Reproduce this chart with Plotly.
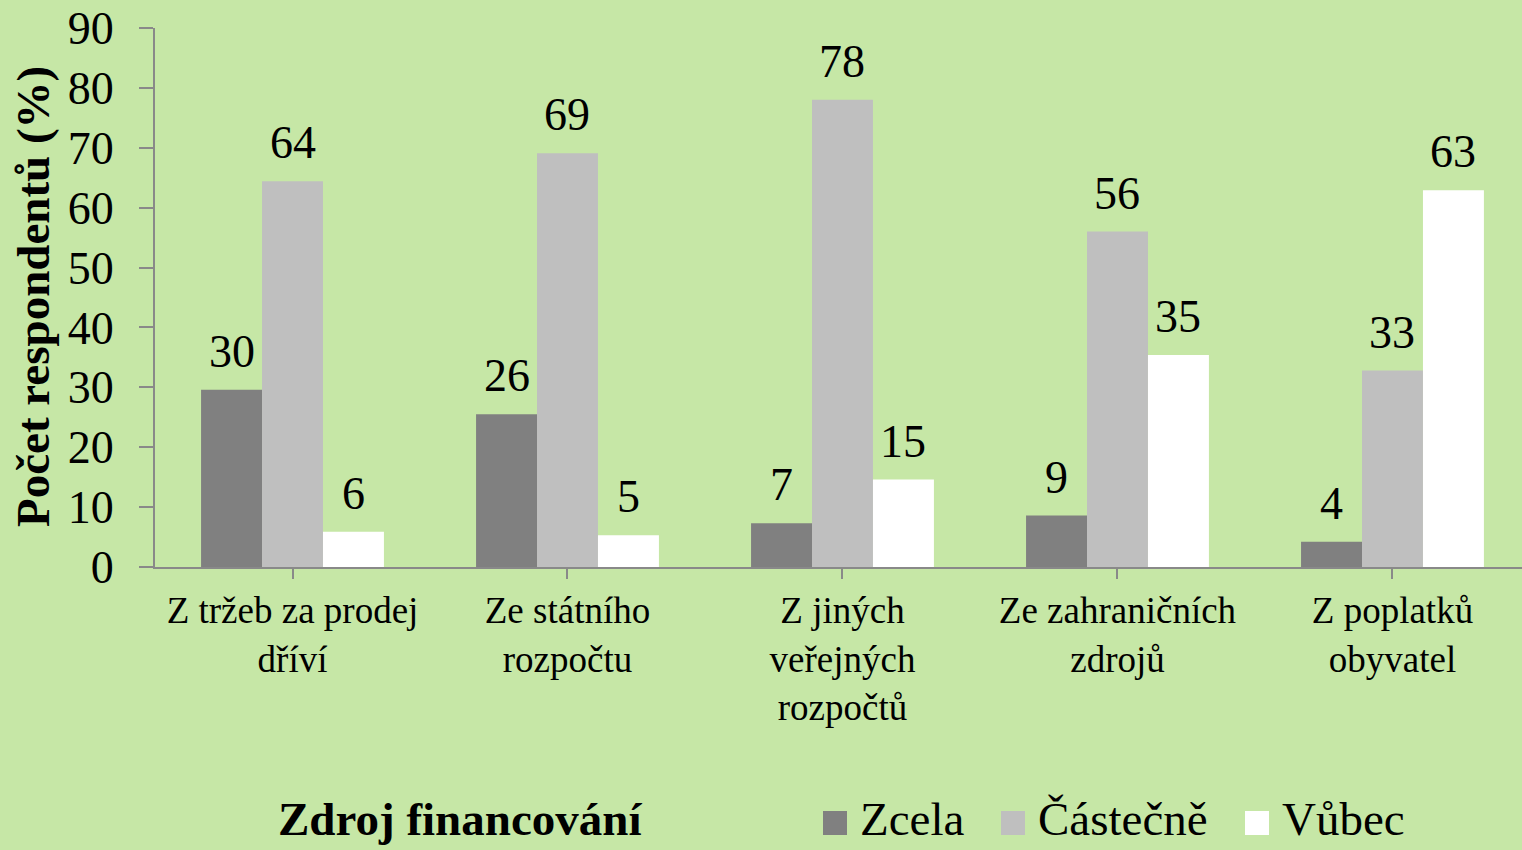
import plotly.graph_objects as go

categories = [
    "Z tržeb za prodej<br>dříví",
    "Ze státního<br>rozpočtu",
    "Z jiných<br>veřejných<br>rozpočtů",
    "Ze zahraničních<br>zdrojů",
    "Z poplatků<br>obyvatel",
]
series_names = ["Zcela", "Částečně", "Vůbec"]
zcela = [29.6, 25.5, 7.3, 8.6, 4.2]
castecne = [64.4, 69.1, 78.0, 56.0, 32.8]
vubec = [5.9, 5.3, 14.6, 35.4, 62.9]
y_ticks = [0, 10, 20, 30, 40, 50, 60, 70, 80, 90]

colors = ["#808080", "#BFBFBF", "#FFFFFF"]
bg = "#C6E7A6"
axis_col = "#898989"
FONT = "Liberation Serif, Times New Roman, serif"

W, H = 1522, 850
ML, MR, MT, MB = 155, 0, 28, 283
x_range = [-0.5, 4.471]
bargap = 0.335
plot_w = W - ML - MR
plot_h = H - MT - MB


def px2x(px):
    return (px - ML) / plot_w


def py2y(py):
    return (H - MB - py) / plot_h


fig = go.Figure()
all_series = [zcela, castecne, vubec]
for name, vals, col in zip(series_names, all_series, colors):
    fig.add_trace(go.Bar(
        x=list(range(len(categories))), y=vals, name=name,
        marker=dict(color=col, line=dict(width=0)),
        hoverinfo="y+name", showlegend=False,
    ))

cat_px = plot_w / (x_range[1] - x_range[0])
bar_px = cat_px * (1 - bargap) / len(all_series)

# data labels
for i, vals in enumerate(all_series):
    for j, v in enumerate(vals):
        fig.add_annotation(
            x=j, y=v, xref="x", yref="y",
            text=str(int(round(v))), showarrow=False,
            xshift=(i - 1) * bar_px, yanchor="bottom", yshift=11,
            font=dict(family=FONT, size=46, color="black"),
        )

# axis titles
fig.add_annotation(
    x=px2x(33), y=py2y(297), xref="paper", yref="paper",
    xanchor="center", yanchor="middle",
    text="<b>Počet respondentů (%)</b>", textangle=-90, showarrow=False,
    font=dict(family=FONT, size=47, color="black"),
)
fig.add_annotation(
    x=px2x(460), y=py2y(819), xref="paper", yref="paper",
    text="<b>Zdroj financování</b>", showarrow=False,
    xanchor="center", yanchor="middle",
    font=dict(family=FONT, size=47, color="black"),
)

# legend (drawn as squares + labels)
legend_sq_left = [823, 1001, 1245]
for name, col, sx in zip(series_names, colors, legend_sq_left):
    fig.add_shape(
        type="rect", xref="paper", yref="paper",
        x0=px2x(sx), x1=px2x(sx + 24), y0=py2y(835), y1=py2y(811),
        fillcolor=col, line=dict(width=0), layer="above",
    )
    fig.add_annotation(
        x=px2x(sx + 35), y=py2y(819), xref="paper", yref="paper",
        text=name, showarrow=False, xanchor="left", yanchor="middle",
        font=dict(family=FONT, size=47, color="black"),
    )

fig.update_layout(
    width=W, height=H,
    margin=dict(l=ML, r=MR, t=MT, b=MB, pad=0, autoexpand=False),
    paper_bgcolor=bg, plot_bgcolor=bg,
    barmode="group", bargap=bargap, bargroupgap=0,
    font=dict(family=FONT, color="black"),
    showlegend=False,
    xaxis=dict(
        tickmode="array", tickvals=list(range(len(categories))), ticktext=categories,
        range=x_range, tickson="boundaries", ticks="outside", ticklen=10,
        tickwidth=2, tickcolor=axis_col, showline=True, linecolor=axis_col,
        linewidth=2, showgrid=False, zeroline=False, tickangle=0,
        tickfont=dict(family=FONT, size=37, color="black"),
        fixedrange=True, automargin=False,
    ),
    yaxis=dict(
        range=[0, 90], tickmode="array", tickvals=y_ticks,
        ticks="outside", ticklen=14, tickwidth=2, tickcolor=axis_col,
        showline=True, linecolor=axis_col, linewidth=2, showgrid=False,
        zeroline=False, tickfont=dict(family=FONT, size=46, color="black"),
        ticklabelstandoff=16, fixedrange=True, automargin=False,
    ),
)

fig.write_html(
    "out.html",
    config={"displayModeBar": False},
    post_script="document.body.style.margin='0';document.body.style.overflow='hidden';",
)
